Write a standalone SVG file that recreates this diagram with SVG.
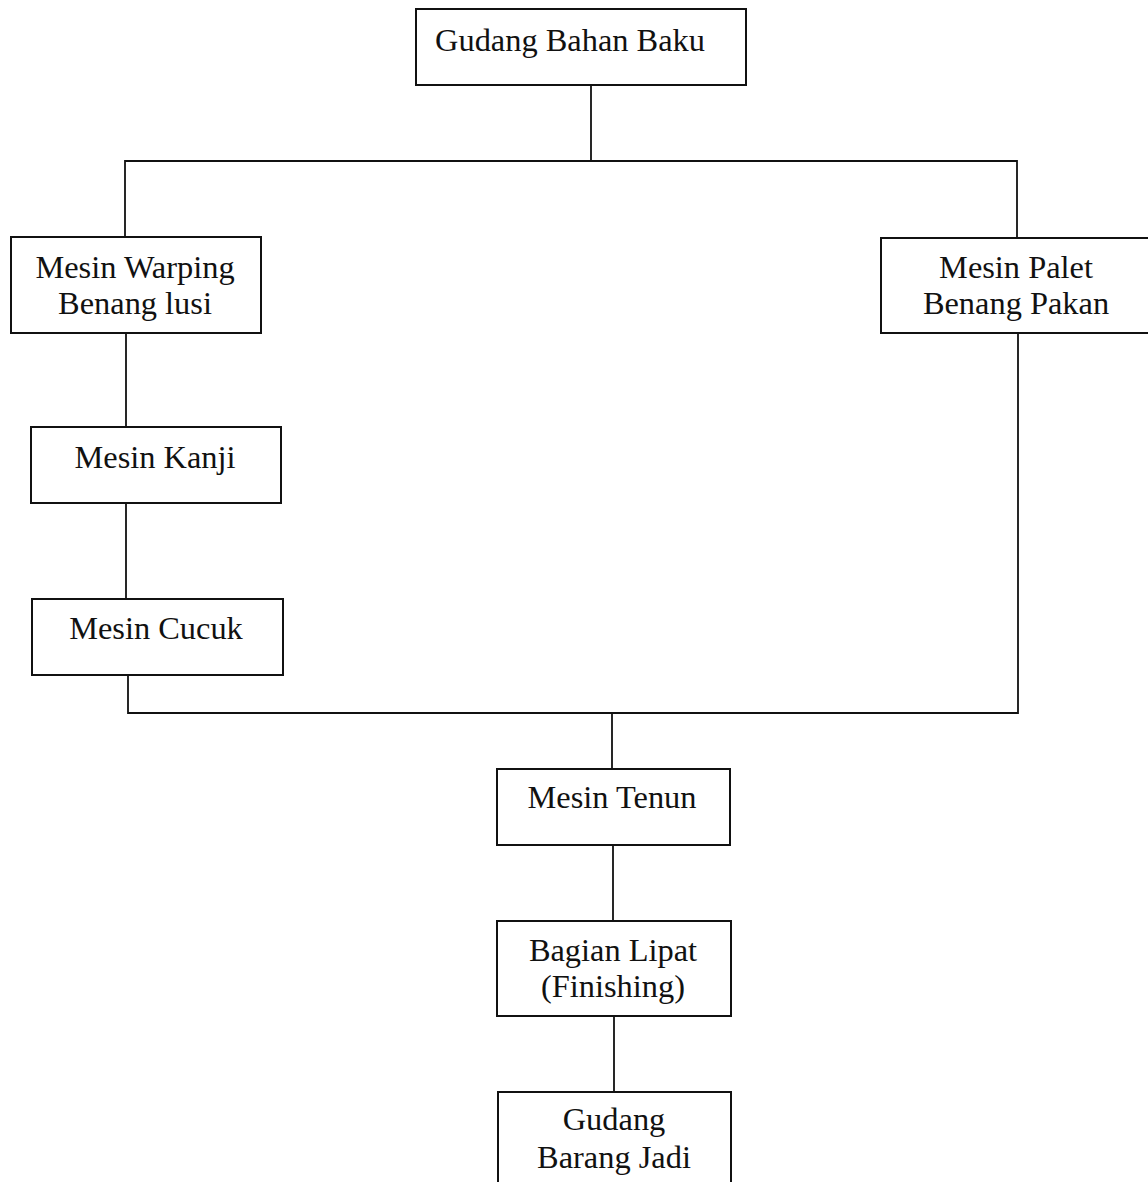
<svg xmlns="http://www.w3.org/2000/svg" width="1148" height="1182" viewBox="0 0 1148 1182">
<style>
.box{fill:#fff;stroke:#111;stroke-width:2}
.ln{fill:none;stroke:#111;stroke-width:1.8}
text{font-family:"Liberation Serif","Times New Roman",serif;font-size:32.4px;fill:#111;text-anchor:middle}
</style>
<rect width="1148" height="1182" fill="#fff"/>
<g id="connectors">
<path class="ln" d="M591 85V161M125 237V161H1017V238"/>
<path class="ln" d="M126 333V427M126 503V599"/>
<path class="ln" d="M128 675V713H1018V333M612 713V769"/>
<path class="ln" d="M613 845V921M614 1016V1092"/>
</g>
<g id="n1"><rect class="box" x="416" y="9" width="330" height="76"/><text x="570" y="51">Gudang Bahan Baku</text></g>
<g id="n2"><rect class="box" x="11" y="237" width="250" height="96"/><text x="135" y="278">Mesin Warping</text><text x="135" y="314">Benang lusi</text></g>
<g id="n3"><rect class="box" x="881" y="238" width="290" height="95"/><text x="1016" y="278">Mesin Palet</text><text x="1016" y="314">Benang Pakan</text></g>
<g id="n4"><rect class="box" x="31" y="427" width="250" height="76"/><text x="155" y="468">Mesin Kanji</text></g>
<g id="n5"><rect class="box" x="32" y="599" width="251" height="76"/><text x="156" y="639">Mesin Cucuk</text></g>
<g id="n6"><rect class="box" x="497" y="769" width="233" height="76"/><text x="612" y="808">Mesin Tenun</text></g>
<g id="n7"><rect class="box" x="497" y="921" width="234" height="95"/><text x="613" y="961">Bagian Lipat</text><text x="613" y="997">(Finishing)</text></g>
<g id="n8"><rect class="box" x="498" y="1092" width="233" height="120"/><text x="614" y="1130">Gudang</text><text x="614" y="1168">Barang Jadi</text></g>
</svg>
